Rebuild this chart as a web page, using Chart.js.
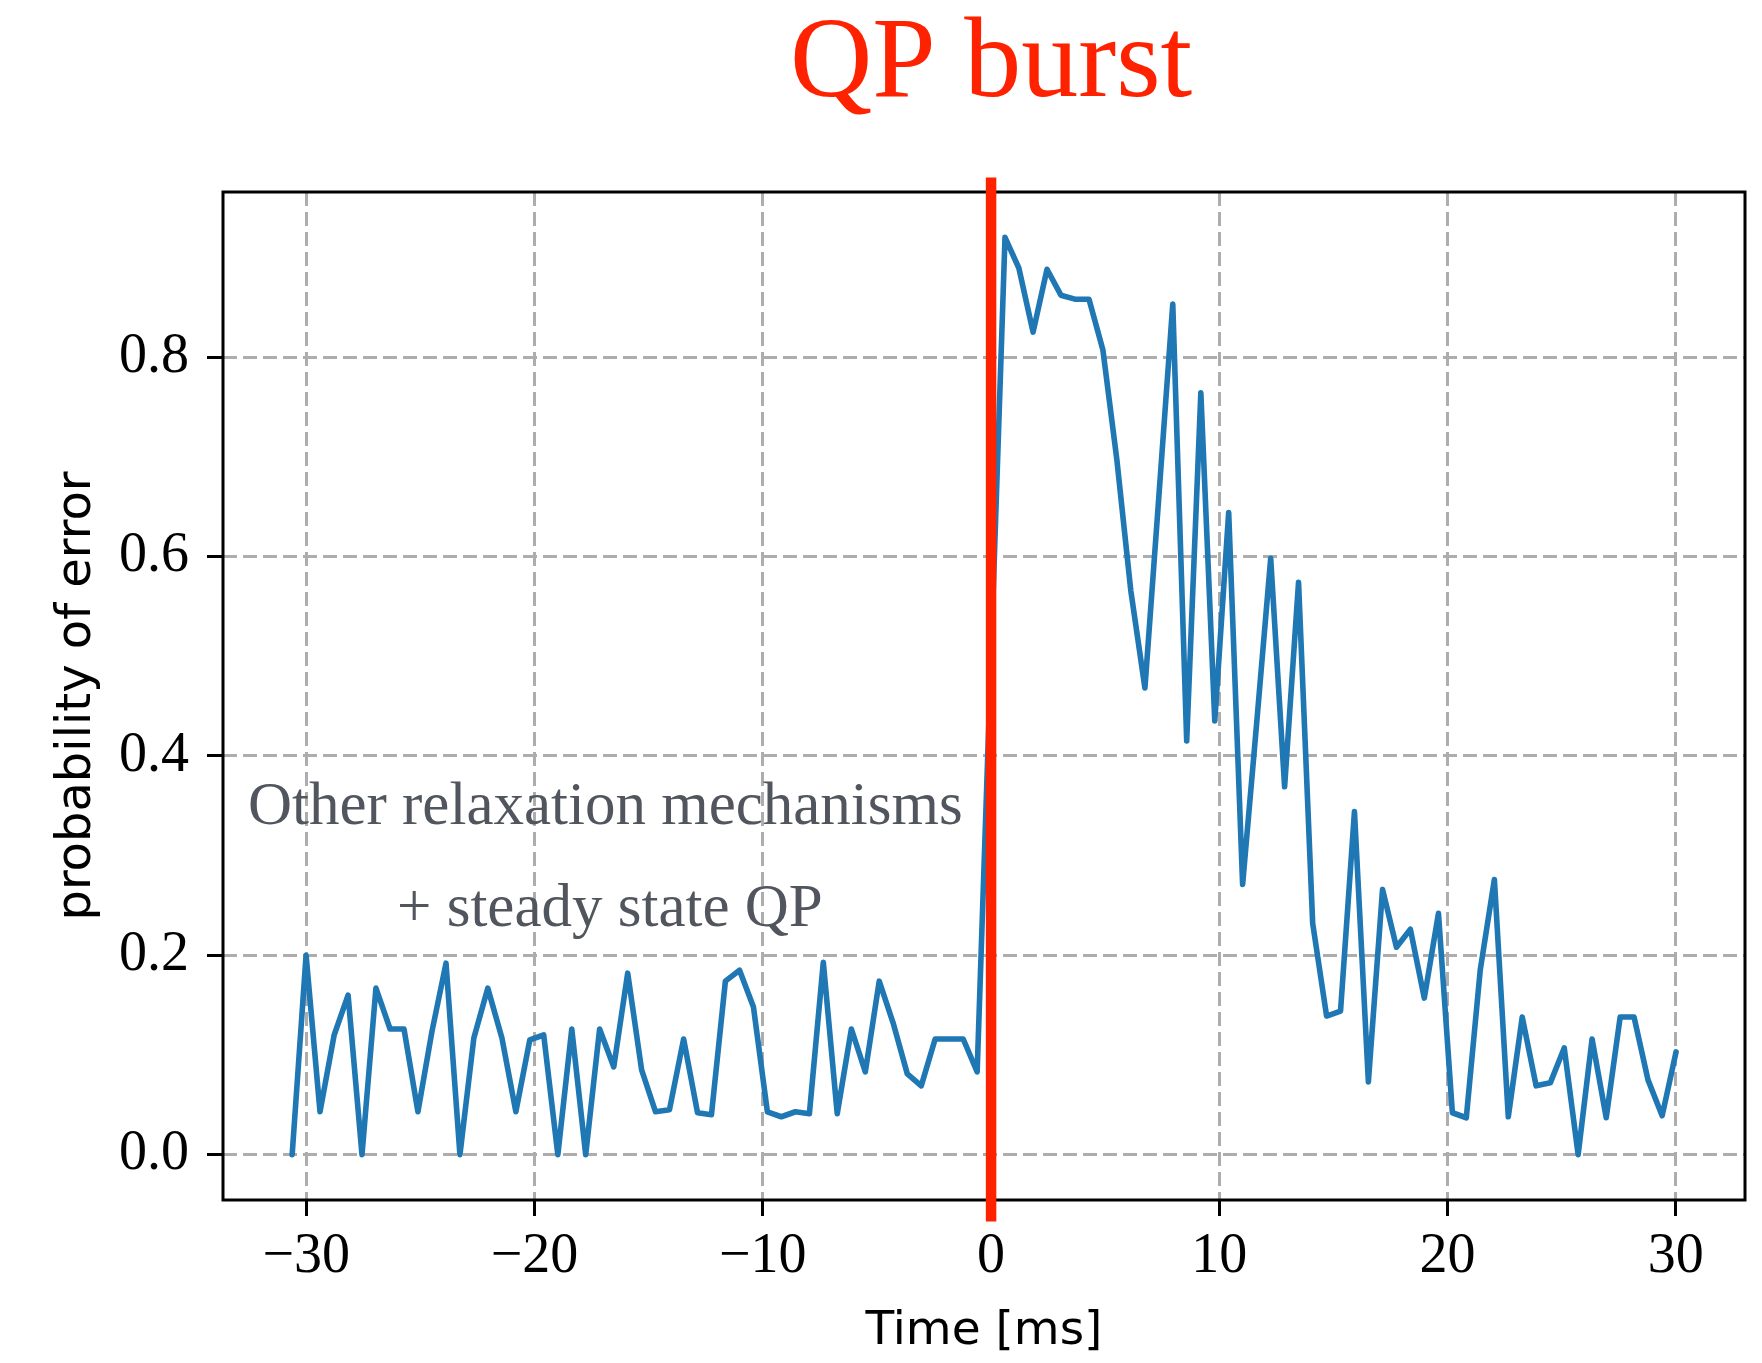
<!DOCTYPE html>
<html>
<head>
<meta charset="utf-8">
<script src="https://cdn.jsdelivr.net/npm/chart.js@4/dist/chart.umd.min.js"></script>
<style>
  body { margin: 0; background: #fff; }
  canvas { display: block; }
</style>
</head>
<body>
<canvas id="qpBurst" width="1762" height="1363"></canvas>
<script>
// time bins [ms]
const times = [
  -30.62, -30.01, -29.40, -28.78, -28.17, -27.56, -26.95, -26.33, -25.72, -25.11,
  -24.50, -23.88, -23.27, -22.66, -22.05, -21.43, -20.82, -20.21, -19.60, -18.98,
  -18.37, -17.76, -17.15, -16.53, -15.92, -15.31, -14.70, -14.09, -13.47, -12.86,
  -12.25, -11.64, -11.02, -10.41, -9.80, -9.19, -8.57, -7.96, -7.35, -6.74,
  -6.12, -5.51, -4.90, -4.29, -3.67, -3.06, -2.45, -1.84, -1.22, -0.61,
  0.00, 0.61, 1.22, 1.84, 2.45, 3.06, 3.67, 4.29, 4.90, 5.51,
  6.12, 6.74, 7.35, 7.96, 8.57, 9.19, 9.80, 10.41, 11.02, 11.64,
  12.25, 12.86, 13.47, 14.09, 14.70, 15.31, 15.92, 16.53, 17.15, 17.76,
  18.37, 18.98, 19.60, 20.21, 20.82, 21.43, 22.05, 22.66, 23.27, 23.88,
  24.50, 25.11, 25.72, 26.33, 26.95, 27.56, 28.17, 28.78, 29.40, 30.01
];

const errorProb = [
  0.0, 0.2, 0.043, 0.12, 0.16, 0.0, 0.167, 0.126, 0.126, 0.043,
  0.123, 0.192, 0.0, 0.117, 0.167, 0.117, 0.043, 0.115, 0.12, 0.0,
  0.126, 0.0, 0.126, 0.088, 0.182, 0.085, 0.043, 0.045, 0.116, 0.042,
  0.04, 0.174, 0.185, 0.148, 0.043, 0.038, 0.043, 0.041, 0.193, 0.041,
  0.126, 0.083, 0.174, 0.132, 0.081, 0.069, 0.116, 0.116, 0.116, 0.083,
  0.5, 0.92, 0.889, 0.825, 0.888, 0.862, 0.858, 0.858, 0.807, 0.697,
  0.566, 0.468, 0.66, 0.853, 0.415, 0.764, 0.435, 0.644, 0.271, 0.434,
  0.598, 0.369, 0.574, 0.232, 0.139, 0.144, 0.344, 0.073, 0.266, 0.208,
  0.226, 0.157, 0.242, 0.042, 0.037, 0.185, 0.276, 0.038, 0.138, 0.069,
  0.072, 0.107, 0.0, 0.116, 0.037, 0.138, 0.138, 0.075, 0.039, 0.103
];

const xTicks = [-30, -20, -10, 0, 10, 20, 30];
const yTicks = [0.0, 0.2, 0.4, 0.6, 0.8];

const burstTime = 0;
const burstSpan = [-0.067, 0.98];
const titleText = "QP burst";
const noteLines = ["Other relaxation mechanisms", "+ steady state QP"];

const serif = "'Liberation Serif', 'DejaVu Serif', serif";
const sans = "'DejaVu Sans', sans-serif";

// frame on all four sides, under the data
const framePlugin = {
  id: "frame",
  beforeDatasetsDraw(chart) {
    const { ctx, chartArea: a } = chart;
    ctx.save();
    ctx.strokeStyle = "#000";
    ctx.lineWidth = 3;
    ctx.strokeRect(a.left, a.top, a.right - a.left, a.bottom - a.top);
    ctx.restore();
  },
};

// title over the burst line + gray note text
const textPlugin = {
  id: "texts",
  afterDraw(chart) {
    const { ctx } = chart;
    const xs = chart.scales.x;
    const ys = chart.scales.y;
    ctx.save();
    ctx.textAlign = "center";
    ctx.textBaseline = "alphabetic";
    ctx.fillStyle = "#ff2200";
    ctx.font = `114px ${serif}`;
    ctx.fillText(titleText, xs.getPixelForValue(burstTime), 96);

    ctx.fillStyle = "#51565e";
    ctx.font = `61px ${serif}`;
    ctx.fillText(noteLines[0], xs.getPixelForValue(-16.9), ys.getPixelForValue(0.332));
    ctx.fillText(noteLines[1], xs.getPixelForValue(-16.7), ys.getPixelForValue(0.229));
    ctx.restore();
  },
};

const ctx = document.getElementById("qpBurst");
new Chart(ctx, {
  type: "line",
  data: {
    datasets: [
      {
        label: "burst",
        data: burstSpan.map((v) => ({ x: burstTime, y: v })),
        borderColor: "#ff2200",
        borderWidth: 10.5,
        borderCapStyle: "butt",
        pointRadius: 0,
        clip: false,
        order: 0,
      },
      {
        label: "probability of error",
        data: times.map((t, i) => ({ x: t, y: errorProb[i] })),
        borderColor: "#1f77b4",
        borderWidth: 5.6,
        borderJoinStyle: "round",
        borderCapStyle: "round",
        tension: 0,
        pointRadius: 0,
        order: 1,
      },
    ],
  },
  options: {
    responsive: false,
    animation: false,
    layout: { padding: { top: 192, right: 17, left: 0, bottom: 0 } },
    plugins: {
      legend: { display: false },
      tooltip: { enabled: false },
      title: { display: false },
    },
    scales: {
      x: {
        type: "linear",
        min: -33.65,
        max: 33.03,
        afterFit: (s) => { s.height = 163; },
        afterBuildTicks: (s) => { s.ticks = xTicks.map((v) => ({ value: v })); },
        grid: {
          color: "#adadad",
          lineWidth: 3,
          tickColor: "#000",
          tickWidth: 3,
          tickLength: 16,
        },
        border: { display: false, dash: [14, 6] },
        ticks: {
          color: "#000",
          padding: 8,
          maxRotation: 0,
          font: { family: serif, size: 56 },
          callback: (v) => (v < 0 ? "\u2212" + Math.abs(v) : String(v)),
        },
        title: {
          display: true,
          text: "Time [ms]",
          color: "#000",
          font: { family: sans, size: 47 },
          padding: { top: 0, bottom: 3 },
        },
      },
      y: {
        min: -0.0455,
        max: 0.9655,
        afterFit: (s) => { s.width = 223; },
        afterBuildTicks: (s) => { s.ticks = yTicks.map((v) => ({ value: v })); },
        grid: {
          color: "#adadad",
          lineWidth: 3,
          tickColor: "#000",
          tickWidth: 3,
          tickLength: 16,
        },
        border: { display: false, dash: [14, 6] },
        ticks: {
          color: "#000",
          padding: 18,
          font: { family: serif, size: 56 },
          callback: (v) => Number(v).toFixed(1),
        },
        title: {
          display: true,
          text: "probability of error",
          color: "#000",
          font: { family: sans, size: 48 },
          padding: { top: 49, bottom: 0 },
        },
      },
    },
  },
  plugins: [framePlugin, textPlugin],
});
</script>
</body>
</html>
